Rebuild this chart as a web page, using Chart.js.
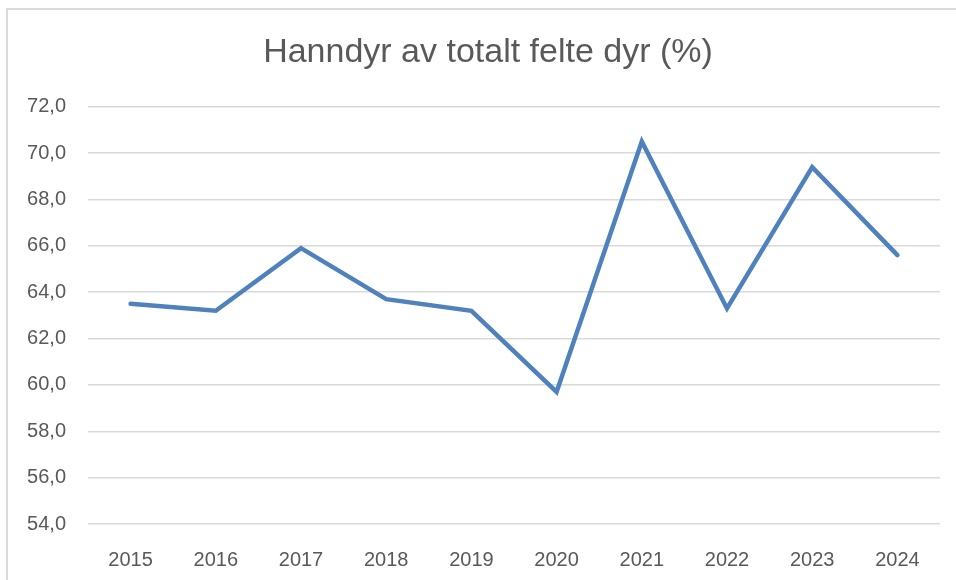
<!DOCTYPE html>
<html>
<head>
<meta charset="UTF-8">
<title>Hanndyr av totalt felte dyr</title>
<script src="https://cdn.jsdelivr.net/npm/chart.js@4.4.0/dist/chart.umd.min.js"></script>
<style>
  body { margin: 0; background: #fff; }
  .frame { position: absolute; left: 6px; top: 8px; width: 960px; height: 580px;
           border-left: 2px solid #d9d9d9; border-top: 2px solid #d9d9d9; }
  .wrap { position: absolute; left: 0; top: 0; }
</style>
</head>
<body>
<div class="frame"></div>
<div class="wrap"><canvas id="chart" width="956" height="580"></canvas></div>
<script>
const years = ['2015', '2016', '2017', '2018', '2019', '2020', '2021', '2022', '2023', '2024']
const hanndyrPct = [63.5, 63.2, 65.9, 63.7, 63.2, 59.7, 70.5, 63.3, 69.4, 65.6]
const yMin = 54
const yMax = 72
const yStep = 2

// nudge the title a bit right, the original centres it over the whole frame
const titleShift = {
  id: 'titleShift',
  afterLayout(c) { if (c.titleBlock) c.titleBlock.left += 36 }
}

const ctx = document.querySelector('#chart').getContext('2d')
const chart = new Chart(ctx, {
  type: 'line',
  data: {
    labels: years,
    datasets: [{
      label: 'Hanndyr',
      data: hanndyrPct,
      borderColor: '#4f81bd',
      borderWidth: 4.5,
      borderCapStyle: 'round',
      borderJoinStyle: 'miter',
      pointRadius: 0,
      tension: 0,
      fill: false
    }]
  },
  options: {
    responsive: false,
    animation: false,
    layout: { padding: { left: 0, right: 16, top: 0, bottom: 0 } },
    plugins: {
      legend: { display: false },
      tooltip: { enabled: false },
      title: {
        display: true,
        text: 'Hanndyr av totalt felte dyr (%)',
        color: '#595959',
        font: { family: 'Liberation Sans', size: 34, weight: 'normal' },
        padding: { top: 32, bottom: 34 }
      }
    },
    scales: {
      x: {
        offset: true,
        grid: { display: false },
        border: { display: false },
        ticks: { color: '#595959', font: { family: 'Liberation Sans', size: 20 }, padding: 16, maxRotation: 0 },
        afterFit: s => { s.height = 56 }
      },
      y: {
        min: yMin,
        max: yMax,
        grid: { color: '#d9d9d9', lineWidth: 1.5, drawTicks: false },
        border: { display: false },
        ticks: {
          stepSize: yStep,
          color: '#595959',
          font: { family: 'Liberation Sans', size: 20 },
          padding: 22,
          callback: v => v.toFixed(1).replace('.', ',')
        },
        afterFit: s => { s.width = 88 }
      }
    }
  },
  plugins: [titleShift]
})
</script>
</body>
</html>
